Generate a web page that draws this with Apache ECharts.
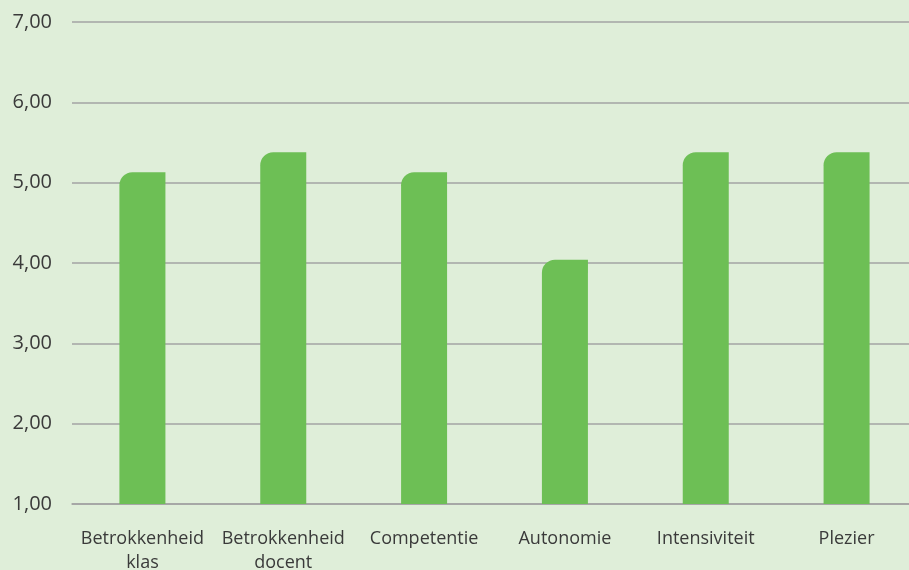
<!DOCTYPE html>
<html>
<head>
<meta charset="utf-8">
<script src="https://cdn.jsdelivr.net/npm/echarts@6/dist/echarts.min.js"></script>
<style>
  html, body { margin: 0; padding: 0; background: #dfeed9; }
  #chart { width: 909px; height: 570px; }
</style>
</head>
<body>
<div id="chart"></div>
<script>
// categorieën en gemiddelde scores
const categories = ["Betrokkenheid\nklas", "Betrokkenheid\ndocent", "Competentie", "Autonomie", "Intensiviteit", "Plezier"];
const scores = [5.13, 5.38, 5.13, 4.04, 5.38, 5.38];

const chart = echarts.init(document.getElementById("chart"));

chart.setOption({
    backgroundColor: "#dfeed9",
    textStyle: { fontFamily: "Open Sans" },
    grid: { left: 72, right: -8, top: 22, bottom: 66, outerBoundsMode: "none", containLabel: false },
    xAxis: {
        type: "category",
        data: categories,
        axisLine: { lineStyle: { color: "#a3a3a3", width: 1.5 } },
        axisTick: { show: false },
        axisLabel: { color: "#3a3a3a", fontSize: 18, lineHeight: 24, margin: 23, interval: 0 },
    },
    yAxis: {
        type: "value",
        min: 1,
        max: 7,
        interval: 1,
        axisLine: { show: false },
        axisTick: { show: false },
        splitLine: { lineStyle: { color: "#a3a3a3", width: 1.5 } },
        axisLabel: {
            color: "#3a3a3a",
            fontSize: 20,
            margin: 20,
            formatter: (v) => v.toFixed(2).replace(".", ","),
        },
    },
    series: [{
        type: "bar",
        data: scores,
        barWidth: 46,
        itemStyle: { color: "#6dbf55", borderRadius: [13, 0, 0, 0] },
    }],
});
</script>
</body>
</html>
